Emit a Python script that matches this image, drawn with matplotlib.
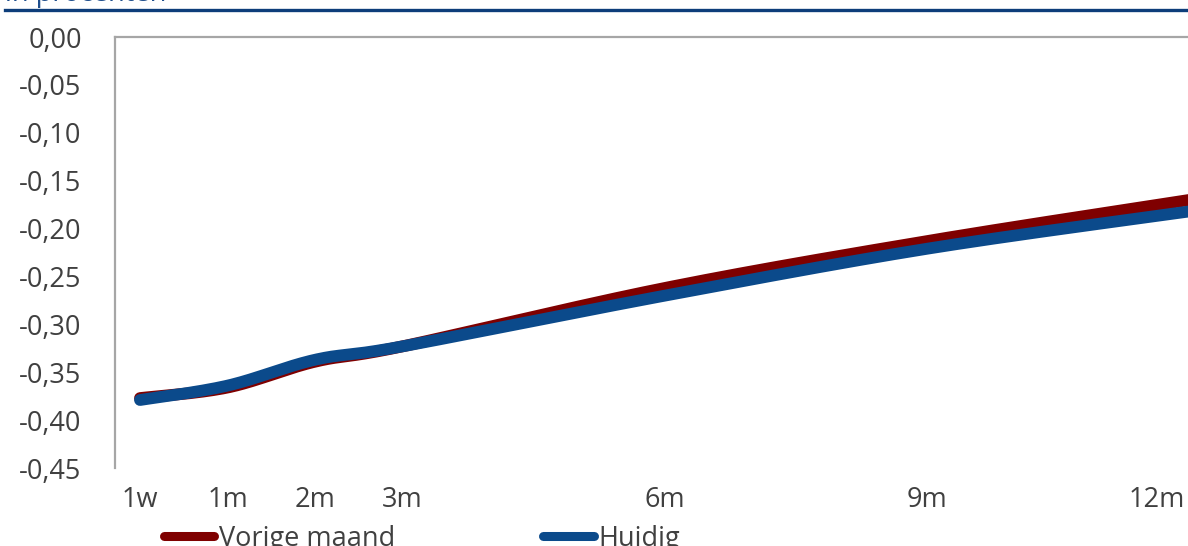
import numpy as np
import matplotlib
matplotlib.use("Agg")
import matplotlib.pyplot as plt
from matplotlib.lines import Line2D
from matplotlib.transforms import ScaledTranslation

plt.rcParams['font.family'] = ['Open Sans', 'DejaVu Sans']

# ---- data ----
tenors = ["1w", "1m", "2m", "3m", "6m", "9m", "12m"]
tenor_months = [0, 1, 2, 3, 6, 9, 12]          # axis position (1w shown at start)
vorige_maand = [-0.377, -0.366, -0.339, -0.323, -0.262, -0.213, -0.170]
huidig = [-0.379, -0.364, -0.337, -0.323, -0.270, -0.221, -0.182]
yticks = [0.00, -0.05, -0.10, -0.15, -0.20, -0.25, -0.30, -0.35, -0.40, -0.45]
series_names = ["Vorige maand", "Huidig"]
title_text = "in procenten"

RED = "#7f0000"
BLUE = "#0b4a8b"
TXT = "#404040"
FS = 19.5


def smooth(x, y, n=40):
    """Bezier smoothing through the points (like Excel smoothed lines)."""
    x = np.asarray(x, float)
    y = np.asarray(y, float)
    xs, ys = [], []
    for i in range(len(x) - 1):
        p0 = np.array([x[max(i - 1, 0)], y[max(i - 1, 0)]])
        p1 = np.array([x[i], y[i]])
        p2 = np.array([x[i + 1], y[i + 1]])
        p3 = np.array([x[min(i + 2, len(x) - 1)], y[min(i + 2, len(x) - 1)]])
        c1 = p1 + (p2 - p0) / 6.0
        c2 = p2 - (p3 - p1) / 6.0
        t = np.linspace(0, 1, n)[:, None]
        pts = ((1 - t) ** 3) * p1 + 3 * ((1 - t) ** 2) * t * c1 + 3 * (1 - t) * t ** 2 * c2 + t ** 3 * p2
        if i > 0:
            pts = pts[1:]
        xs.append(pts[:, 0])
        ys.append(pts[:, 1])
    return np.concatenate(xs), np.concatenate(ys)


W, H = 1188, 546
fig = plt.figure(figsize=(W / 100, H / 100), dpi=100)

left_px, right_px, top_px, bot_px = 115, 1200, 37, 468
ax = fig.add_axes([left_px / W, 1 - bot_px / H, (right_px - left_px) / W, (bot_px - top_px) / H])

# pixel mapping: month m -> 140 + 87.5*m
x0 = (left_px - 140) / 87.5
x1 = (right_px - 140) / 87.5
ax.set_xlim(x0, x1)
ax.set_ylim(-0.45, 0.0)

sx, sy = smooth(tenor_months, vorige_maand)
ax.plot(sx, sy, color=RED, lw=8.5, solid_capstyle='round', zorder=3)
sx, sy = smooth(tenor_months, huidig)
ax.plot(sx, sy, color=BLUE, lw=8.5, solid_capstyle='round', zorder=4)

for s in ['right', 'bottom']:
    ax.spines[s].set_visible(False)
for s in ['top', 'left']:
    ax.spines[s].set_color("#a6a6a6")
    ax.spines[s].set_linewidth(1.6)

ax.set_yticks(yticks)
ax.set_yticklabels([f"{v:.2f}".replace(".", ",") for v in yticks])
ax.tick_params(axis='y', length=0, pad=24, labelsize=FS, labelcolor=TXT)
ax.set_xticks(tenor_months)
ax.set_xticklabels(tenors)
ax.tick_params(axis='x', length=0, pad=13, labelsize=FS, labelcolor=TXT)
lbls = ax.get_xticklabels()
lbls[-1].set_ha('right')
lbls[-1].set_transform(lbls[-1].get_transform() + ScaledTranslation(-5 / 100, 0, fig.dpi_scale_trans))

# top rule and cut-off title
fig.add_artist(Line2D([5 / W, 1.0], [1 - 10 / H, 1 - 10 / H], color="#0d3d7a", lw=2.4))
fig.text(5 / W, 1 - 1 / H, title_text, color="#1f4e8c", fontsize=FS, va='baseline', ha='left')

# legend (cut off at bottom)
ly = 1 - 536 / H
fig.add_artist(Line2D([164 / W, 214 / W], [ly, ly], color=RED, lw=6.5, solid_capstyle='round'))
fig.text(219 / W, ly - 3 / H, series_names[0], color=TXT, fontsize=FS, va='center', ha='left')
fig.add_artist(Line2D([543 / W, 594 / W], [ly, ly], color=BLUE, lw=6.5, solid_capstyle='round'))
fig.text(598 / W, ly - 3 / H, series_names[1], color=TXT, fontsize=FS, va='center', ha='left')

fig.savefig("out.png", dpi=100)
